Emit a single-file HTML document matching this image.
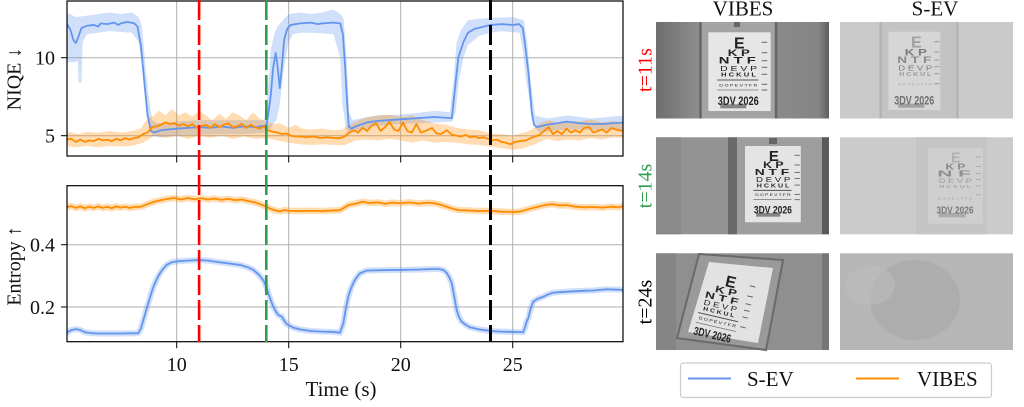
<!DOCTYPE html>
<html><head><meta charset="utf-8"><style>
html,body{margin:0;padding:0;background:#fff;}
svg{display:block;}
.ser{font-family:"Liberation Serif",serif;}
.san{font-family:"Liberation Sans",sans-serif;}
</style></head><body>
<svg width="1024" height="407" viewBox="0 0 1024 407" xmlns="http://www.w3.org/2000/svg">
<defs>
<clipPath id="c1"><rect x="67" y="1" width="556" height="155"/></clipPath>
<clipPath id="c2"><rect x="67" y="185.7" width="556" height="156"/></clipPath>
<linearGradient id="gl" x1="0" x2="1" y1="0" y2="0"><stop offset="0" stop-color="#6e6e6e"/><stop offset="0.25" stop-color="#8e8e8e"/><stop offset="1" stop-color="#8e8e8e"/></linearGradient>
<linearGradient id="gr" x1="0" x2="1" y1="0" y2="0"><stop offset="0" stop-color="#8a8a8a"/><stop offset="0.8" stop-color="#858585"/><stop offset="1" stop-color="#5e5e5e"/></linearGradient>
</defs>
<rect width="1024" height="407" fill="#fff"/>

<!-- ===== grids ===== -->
<g stroke="#b0b0b0" stroke-width="1">
<line x1="176.7" y1="1" x2="176.7" y2="156"/><line x1="288.7" y1="1" x2="288.7" y2="156"/><line x1="400.7" y1="1" x2="400.7" y2="156"/><line x1="512.7" y1="1" x2="512.7" y2="156"/>
<line x1="67" y1="57.7" x2="623" y2="57.7"/><line x1="67" y1="135.7" x2="623" y2="135.7"/>
<line x1="176.7" y1="185.7" x2="176.7" y2="341.7"/><line x1="288.7" y1="185.7" x2="288.7" y2="341.7"/><line x1="400.7" y1="185.7" x2="400.7" y2="341.7"/><line x1="512.7" y1="185.7" x2="512.7" y2="341.7"/>
<line x1="67" y1="244.7" x2="623" y2="244.7"/><line x1="67" y1="307" x2="623" y2="307"/>
</g>

<!-- ===== top plot data ===== -->
<g clip-path="url(#c1)"><g transform="matrix(22.4 0 0 -15.6 -47.3 213.7)">
<polygon fill="#6495ED" fill-opacity="0.3" points="5.1,12.9 5.5,12.6 6,12.7 6.5,12.8 7,12.9 7.5,12.8 8,12.9 8.3,12.6 8.45,12 8.6,9.5 8.75,7.5 8.9,6 9.1,5.8 10,5.9 11,6 12,6 13,6 13.9,6 14.05,7.5 14.2,10.5 14.35,11.5 14.5,12 14.8,12.5 15,12.8 15.5,12.9 16,12.8 16.5,12.9 17,13.1 17.3,12.8 17.45,12.5 17.58,10 17.7,6.5 17.85,6 18.5,6.2 19,6.3 20,6.35 21,6.5 21.5,6.6 22.2,6.5 22.35,8.5 22.5,11 22.7,11.8 23,12.4 23.5,12.5 24,12.55 25,12.6 25.5,12.4 25.65,11 25.8,8.5 26,6.3 26.5,6.1 27,6.2 27.5,6.3 28,6.2 28.5,6.1 29.95,6.3 29.95,5.4 29,5.35 28,5.4 27,5.35 26.2,5.2 26,5.5 25.8,7 25.6,8.5 25.45,10.5 25.3,11.6 24.5,11.7 24,11.6 23.5,11.4 23,10.8 22.8,10 22.6,8.5 22.45,6.5 22.3,5.9 21.5,5.85 21,5.8 20,5.75 19,5.65 18,5.3 17.7,5.1 17.55,5.5 17.4,7 17.3,10 17,11.5 16,11.6 15.5,11.6 15.2,11.5 15,11 14.8,9.5 14.6,7 14.45,6 14.2,5.5 14,5.2 13,5.1 12,5.1 11,5.05 10,5 9.2,4.9 8.9,5 8.75,5.7 8.6,7.5 8.45,9.5 8.3,11 8,11.6 7,11.7 6,11.5 5.8,11 5.75,8.4 5.62,8.4 5.58,9.8 5.4,9.7 5.2,9.7 5.05,9.7"/>
<polygon fill="#FF8C00" fill-opacity="0.3" points="5.05,5.3 5.6,5.1 6,5.25 6.5,5.2 7,5.3 7.5,5.2 8,5.3 8.4,5.45 8.6,5.9 8.8,6.2 9,6.3 9.2,6.6 9.5,6.3 9.8,6.7 10.1,6.3 10.4,6.5 10.7,6.2 11,6.6 11.3,6.3 11.6,6 11.9,6.4 12.2,6.1 12.5,6.5 12.8,6.3 13.1,6 13.4,6.5 13.7,6.1 14,5.9 14.3,5.75 14.6,5.8 15,5.5 15.3,5.7 15.6,5.45 16,5.4 16.5,5.45 17,5.35 17.4,5.4 17.7,5.7 18,5.9 18.3,6.1 18.6,6.2 19,6.3 19.5,6.35 20,6.2 20.5,6.3 21,6 21.5,5.8 22,5.7 22.5,5.5 23,5.4 23.5,5.35 24,5.15 24.5,5.1 25,5 25.5,5.2 25.8,5.35 26.2,5.8 26.6,6 27,5.85 27.5,5.95 28,5.9 28.5,6.05 29,5.85 29.5,5.95 29.95,5.8 29.95,4.85 29.5,4.9 29,4.75 28.5,4.85 28,4.7 27.5,4.75 27,4.65 26.5,4.8 26,4.45 25.5,4.2 25,4.1 24.5,4.2 24,4.3 23.5,4.4 23,4.45 22.5,4.55 22,4.6 21.5,4.55 21,4.7 20.5,4.55 20,4.7 19.5,4.8 19,4.7 18.5,4.75 18,4.7 17.5,4.4 17,4.4 16.5,4.45 16,4.4 15.5,4.45 15,4.55 14.5,4.7 14,4.85 13.5,4.8 13,4.95 12.5,4.8 12,5 11.5,4.85 11,5 10.5,4.8 10,5 9.5,4.85 9,5 8.5,4.55 8,4.35 7.5,4.3 7,4.35 6.5,4.25 6,4.35 5.5,4.25 5.05,4.35"/>
<polyline fill="none" stroke="#6495ED" stroke-width="1.8" stroke-linejoin="round" vector-effect="non-scaling-stroke" points="5.05,12.3 5.25,11.8 5.4,11.1 5.5,10.95 5.6,11.3 5.75,11.9 6,12.05 6.3,12.1 6.5,12 6.6,12.2 6.9,12.15 7.2,12.25 7.4,12.1 7.5,12.2 7.8,12.3 8.1,12.2 8.25,12 8.4,10.8 8.55,8.5 8.7,6.3 8.85,5.3 9,5.2 9.3,5.35 9.6,5.4 10,5.45 10.5,5.5 11,5.55 11.5,5.5 12,5.6 12.5,5.5 13,5.6 13.5,5.55 14,5.65 14.1,6.5 14.2,7.6 14.3,9.3 14.42,10.3 14.5,9.5 14.6,8.05 14.7,9.5 14.8,11.2 14.95,11.9 15.1,12.1 15.5,12.2 16,12.25 16.3,12.15 16.5,12.2 17,12.25 17.3,12.2 17.42,11.5 17.52,9.4 17.6,7.3 17.68,5.6 17.8,5.45 18,5.6 18.5,5.85 19,5.95 20,6.05 20.5,6.1 21,6.15 21.5,6.2 22,6.15 22.28,6.12 22.4,7.7 22.57,10 22.8,11 23,11.6 23.3,11.85 23.6,11.95 24,12.1 24.5,12.15 25,12.1 25.3,12.15 25.45,11.9 25.6,10.3 25.72,8.8 25.85,6.5 25.95,5.7 26.1,5.55 26.5,5.7 27,5.8 27.4,5.9 28,5.8 28.5,5.75 29,5.75 29.5,5.8 29.95,5.85"/>
<polyline fill="none" stroke="#FF8C00" stroke-width="1.8" stroke-linejoin="round" vector-effect="non-scaling-stroke" points="5.05,4.75 5.3,4.8 5.5,4.6 5.7,4.75 5.9,4.6 6.1,4.7 6.3,4.65 6.5,4.8 6.7,4.7 6.9,4.75 7.1,4.65 7.3,4.8 7.5,4.7 7.7,4.85 7.9,4.75 8.1,4.85 8.3,4.9 8.5,5.1 8.7,5.2 8.9,5.55 9.1,5.6 9.3,5.7 9.5,5.85 9.7,5.75 9.9,5.8 10.1,5.65 10.3,5.75 10.5,5.6 10.7,5.75 10.9,5.5 11.1,5.6 11.3,5.7 11.5,5.5 11.7,5.75 11.9,5.55 12.1,5.7 12.3,5.8 12.5,5.55 12.7,5.6 12.9,5.75 13.1,5.5 13.3,5.7 13.5,5.55 13.7,5.45 13.9,5.6 14.05,5.35 14.3,5.25 14.5,5.2 14.7,5.1 14.9,5.15 15.1,5 15.3,4.95 15.5,4.95 15.8,4.9 16.1,4.95 16.4,4.85 16.7,4.9 17,4.85 17.3,4.85 17.5,4.95 17.7,5.2 17.9,5.35 18.1,5.2 18.3,5.5 18.5,5.3 18.7,5.65 18.9,5.8 19.1,5.3 19.3,5.55 19.5,5.9 19.7,5.4 19.9,5.3 20.1,5.85 20.3,5.3 20.5,5.2 20.7,5.75 20.9,5.2 21.1,5.3 21.4,5.5 21.6,5.15 21.8,5.1 22.05,5.35 22.3,5.05 22.5,5 22.7,4.95 22.9,5.05 23.1,4.9 23.3,4.95 23.5,4.85 23.7,4.9 23.9,4.8 24.1,4.7 24.3,4.75 24.5,4.6 24.7,4.55 24.9,4.45 25.1,4.6 25.3,4.65 25.6,4.7 25.8,4.85 26,4.95 26.2,5.05 26.4,5.3 26.6,5.55 26.8,5.1 27,5.3 27.2,5.1 27.4,5.45 27.6,5.2 27.8,5.35 28,5.2 28.2,5.5 28.4,5.55 28.6,5.2 28.8,5.3 29,5.4 29.2,5.2 29.4,5.5 29.6,5.4 29.95,5.3"/>
</g></g>

<!-- ===== bottom plot data ===== -->
<g clip-path="url(#c2)"><g transform="matrix(22.4 0 0 -3.115 -47.3 369.3)">
<polyline fill="none" stroke="#6495ED" stroke-opacity="0.3" stroke-width="6" stroke-linejoin="round" vector-effect="non-scaling-stroke" points="5.05,11.6 5.3,12.6 5.5,12.9 5.7,12.6 5.9,11.9 6.2,11.6 6.5,11.5 7,11.5 7.5,11.5 8,11.55 8.28,11.6 8.4,13 8.51,15.8 8.62,18.5 8.73,21.2 8.85,24 8.96,26.5 9.1,28.8 9.25,30.8 9.4,32.3 9.55,33.5 9.7,34.1 9.85,34.5 10.1,34.7 10.5,34.9 11,35.1 11.4,34.9 11.79,34.5 12.3,34 12.83,33.5 13.2,32.7 13.42,31.9 13.65,30.5 13.86,28.7 14,26.5 14.09,24.4 14.2,22.2 14.31,20.1 14.45,18.3 14.54,17.4 14.69,16.9 14.8,15.6 14.91,14.5 15.2,13.4 15.5,12.8 16,12.3 16.5,12.1 17,12 17.29,11.75 17.44,14.8 17.55,19.5 17.66,23.3 17.77,25.8 17.88,27.6 18,29.2 18.18,30.8 18.48,31.7 19,31.8 19.97,31.9 20.7,32 21.46,32.2 21.7,32.2 21.9,31.9 22.05,31 22.17,29.5 22.28,27.6 22.4,23 22.5,19 22.6,16.8 22.72,15.3 22.9,14.3 23.09,13.5 23.5,12.8 24.03,12.3 24.5,12.1 25,12 25.47,11.9 25.55,13.5 25.62,15.3 25.7,16.5 25.8,19.5 25.92,21.7 26.1,22.6 26.37,23.3 26.6,24.1 26.81,24.6 27.2,24.8 27.6,25 28.15,25.2 28.6,25.3 29.2,25.7 29.5,25.6 29.95,25.5"/>
<polyline fill="none" stroke="#6495ED" stroke-width="1.8" stroke-linejoin="round" vector-effect="non-scaling-stroke" points="5.05,11.6 5.3,12.6 5.5,12.9 5.7,12.6 5.9,11.9 6.2,11.6 6.5,11.5 7,11.5 7.5,11.5 8,11.55 8.28,11.6 8.4,13 8.51,15.8 8.62,18.5 8.73,21.2 8.85,24 8.96,26.5 9.1,28.8 9.25,30.8 9.4,32.3 9.55,33.5 9.7,34.1 9.85,34.5 10.1,34.7 10.5,34.9 11,35.1 11.4,34.9 11.79,34.5 12.3,34 12.83,33.5 13.2,32.7 13.42,31.9 13.65,30.5 13.86,28.7 14,26.5 14.09,24.4 14.2,22.2 14.31,20.1 14.45,18.3 14.54,17.4 14.69,16.9 14.8,15.6 14.91,14.5 15.2,13.4 15.5,12.8 16,12.3 16.5,12.1 17,12 17.29,11.75 17.44,14.8 17.55,19.5 17.66,23.3 17.77,25.8 17.88,27.6 18,29.2 18.18,30.8 18.48,31.7 19,31.8 19.97,31.9 20.7,32 21.46,32.2 21.7,32.2 21.9,31.9 22.05,31 22.17,29.5 22.28,27.6 22.4,23 22.5,19 22.6,16.8 22.72,15.3 22.9,14.3 23.09,13.5 23.5,12.8 24.03,12.3 24.5,12.1 25,12 25.47,11.9 25.55,13.5 25.62,15.3 25.7,16.5 25.8,19.5 25.92,21.7 26.1,22.6 26.37,23.3 26.6,24.1 26.81,24.6 27.2,24.8 27.6,25 28.15,25.2 28.6,25.3 29.2,25.7 29.5,25.6 29.95,25.5"/>
<polyline fill="none" stroke="#FF8C00" stroke-opacity="0.3" stroke-width="6.5" stroke-linejoin="round" vector-effect="non-scaling-stroke" points="5.05,52 5.3,52.4 5.5,51.8 5.7,52.3 5.9,51.7 6.1,52.2 6.3,51.8 6.5,52.3 6.7,51.8 6.9,52.2 7.1,51.7 7.3,52.3 7.5,51.9 7.7,52.2 7.9,51.8 8.1,52.1 8.4,52.2 8.7,53 9,53.8 9.3,54.3 9.6,54.7 9.9,55 10.2,54.5 10.5,55 10.8,54.6 11.1,54.9 11.4,54.5 11.7,54.8 12,54.4 12.3,54.7 12.6,54.3 12.9,54.5 13.2,54 13.5,53.6 13.8,52.8 14,52.2 14.2,51.5 14.4,51 14.6,50.7 14.8,51.1 15,50.9 15.5,50.8 16,50.9 16.5,50.8 17,51 17.3,51.1 17.5,52 17.7,52.8 18,53.2 18.3,53.8 18.6,53.4 19,53.6 19.3,53.1 19.6,53.5 20,53.3 20.4,53.6 20.8,53.2 21.2,53.5 21.5,53.3 21.8,52.8 22,52.3 22.3,51.6 22.6,51.1 23,51 23.5,50.8 24,50.9 24.5,50.6 25,50.5 25.3,50.6 25.6,51.2 25.9,51.8 26.2,52.3 26.5,52.8 26.8,53 27.1,52.6 27.4,52.7 27.8,52.2 28.2,52 28.6,52.1 29,51.9 29.4,52.2 29.7,52 29.95,52.4"/>
<polyline fill="none" stroke="#FF8C00" stroke-width="1.8" stroke-linejoin="round" vector-effect="non-scaling-stroke" points="5.05,52 5.3,52.4 5.5,51.8 5.7,52.3 5.9,51.7 6.1,52.2 6.3,51.8 6.5,52.3 6.7,51.8 6.9,52.2 7.1,51.7 7.3,52.3 7.5,51.9 7.7,52.2 7.9,51.8 8.1,52.1 8.4,52.2 8.7,53 9,53.8 9.3,54.3 9.6,54.7 9.9,55 10.2,54.5 10.5,55 10.8,54.6 11.1,54.9 11.4,54.5 11.7,54.8 12,54.4 12.3,54.7 12.6,54.3 12.9,54.5 13.2,54 13.5,53.6 13.8,52.8 14,52.2 14.2,51.5 14.4,51 14.6,50.7 14.8,51.1 15,50.9 15.5,50.8 16,50.9 16.5,50.8 17,51 17.3,51.1 17.5,52 17.7,52.8 18,53.2 18.3,53.8 18.6,53.4 19,53.6 19.3,53.1 19.6,53.5 20,53.3 20.4,53.6 20.8,53.2 21.2,53.5 21.5,53.3 21.8,52.8 22,52.3 22.3,51.6 22.6,51.1 23,51 23.5,50.8 24,50.9 24.5,50.6 25,50.5 25.3,50.6 25.6,51.2 25.9,51.8 26.2,52.3 26.5,52.8 26.8,53 27.1,52.6 27.4,52.7 27.8,52.2 28.2,52 28.6,52.1 29,51.9 29.4,52.2 29.7,52 29.95,52.4"/>
</g></g>

<!-- ===== axes frames & ticks ===== -->
<g fill="none" stroke="#000" stroke-width="1.2">
<rect x="67" y="1" width="556" height="155"/>
<rect x="67" y="185.7" width="556" height="156"/>
</g>
<g stroke="#000" stroke-width="1">
<line x1="61" y1="57.7" x2="67" y2="57.7"/><line x1="61" y1="135.7" x2="67" y2="135.7"/>
<line x1="61" y1="244.7" x2="67" y2="244.7"/><line x1="61" y1="307" x2="67" y2="307"/>
<line x1="176.7" y1="156" x2="176.7" y2="162.5"/><line x1="288.7" y1="156" x2="288.7" y2="162.5"/><line x1="400.7" y1="156" x2="400.7" y2="162.5"/><line x1="512.7" y1="156" x2="512.7" y2="162.5"/>
<line x1="176.7" y1="341.7" x2="176.7" y2="348.2"/><line x1="288.7" y1="341.7" x2="288.7" y2="348.2"/><line x1="400.7" y1="341.7" x2="400.7" y2="348.2"/><line x1="512.7" y1="341.7" x2="512.7" y2="348.2"/>
</g>

<!-- ===== vertical dashed lines ===== -->
<g stroke-dasharray="20 5" fill="none">
<line x1="199.1" y1="0" x2="199.1" y2="342" stroke="#ff0000" stroke-width="2.6"/>
<line x1="266.3" y1="0" x2="266.3" y2="342" stroke="#2e9e4e" stroke-width="2.6"/>
<line x1="490.5" y1="0" x2="490.5" y2="342" stroke="#000" stroke-width="3"/>
</g>

<!-- ===== axis text ===== -->
<g class="ser" font-size="20" fill="#111">
<text x="55" y="64.5" text-anchor="end">10</text>
<text x="55" y="142.5" text-anchor="end">5</text>
<text x="55" y="251.5" text-anchor="end">0.4</text>
<text x="55" y="313.8" text-anchor="end">0.2</text>
<text x="176.7" y="371" text-anchor="middle">10</text>
<text x="288.7" y="371" text-anchor="middle">15</text>
<text x="400.7" y="371" text-anchor="middle">20</text>
<text x="512.7" y="371" text-anchor="middle">25</text>
<text x="341" y="396" text-anchor="middle" font-size="21">Time (s)</text>
<text transform="translate(20.5,79) rotate(-90)" text-anchor="middle" font-size="20">NIQE ↓</text>
<text transform="translate(20.5,266) rotate(-90)" text-anchor="middle" font-size="20">Entropy ↑</text>
<text x="743" y="15.5" text-anchor="middle" font-size="21">VIBES</text>
<text x="935" y="15.5" text-anchor="middle" font-size="21">S-EV</text>
<text transform="translate(651.5,70) rotate(-90)" text-anchor="middle" fill="#ff0000">t=11s</text>
<text transform="translate(651.5,186) rotate(-90)" text-anchor="middle" fill="#2e9e4e">t=14s</text>
<text transform="translate(651.5,302) rotate(-90)" text-anchor="middle" fill="#000">t=24s</text>
</g>

<!-- ===== Row 1 VIBES ===== -->
<rect x="656" y="22" width="173" height="96.5" fill="url(#gl)"/>
<rect x="776" y="22" width="53" height="96.5" fill="url(#gr)"/>
<rect x="700" y="22" width="77" height="96.5" fill="#a3a3a3"/>
<line x1="700.5" y1="22" x2="700.5" y2="118.5" stroke="#666" stroke-width="2.5"/>
<line x1="776" y1="22" x2="776" y2="118.5" stroke="#666" stroke-width="2.5"/>
<rect x="734" y="22" width="6" height="5" fill="#666"/>
<g transform="translate(708.3,32.3)" class="san" fill="#222">
<rect x="0" y="0" width="62.4" height="78.7" fill="#e6e6e6"/>
<text x="31" y="16" font-size="16" font-weight="bold" text-anchor="middle">E</text>
<text x="30.5" y="23.7" font-size="9.5" font-weight="bold" text-anchor="middle" textLength="22" lengthAdjust="spacingAndGlyphs">K P</text>
<text x="29" y="31.4" font-size="9" font-weight="bold" text-anchor="middle" textLength="37" lengthAdjust="spacingAndGlyphs">N T F</text>
<text x="30.3" y="38.7" font-size="7.5" text-anchor="middle" textLength="37" lengthAdjust="spacingAndGlyphs">D E V P</text>
<text x="30.2" y="44.4" font-size="5.5" font-weight="bold" text-anchor="middle" textLength="35" lengthAdjust="spacingAndGlyphs">H C K U L</text>
<line x1="9" y1="47.7" x2="50" y2="47.7" stroke="#555" stroke-width="1"/>
<text x="30" y="54" font-size="4" text-anchor="middle" textLength="38" lengthAdjust="spacingAndGlyphs">D O P E V T F R</text>
<line x1="9" y1="57.7" x2="50" y2="57.7" stroke="#777" stroke-width="0.8"/>
<text x="30" y="72.7" font-size="11.5" font-weight="bold" text-anchor="middle" textLength="41" lengthAdjust="spacingAndGlyphs">3DV 2026</text>
<rect x="12" y="72" width="26" height="4" fill="#444" opacity="0.6"/>
<g stroke="#666" stroke-width="1"><line x1="53.3" y1="10" x2="59" y2="10"/><line x1="53.3" y1="20.4" x2="59" y2="20.4"/><line x1="53.3" y1="28.4" x2="59" y2="28.4"/><line x1="53.3" y1="35" x2="59" y2="35"/><line x1="53.3" y1="42" x2="59" y2="42"/><line x1="53.3" y1="52" x2="59" y2="52"/><line x1="53.3" y1="57.7" x2="59" y2="57.7"/></g>
</g>

<!-- ===== Row 1 S-EV ===== -->
<rect x="840" y="22" width="173" height="96.5" fill="#cacaca"/>
<rect x="880" y="22" width="78" height="96.5" fill="#c3c3c3"/>
<line x1="880.5" y1="22" x2="880.5" y2="118.5" stroke="#b0b0b0" stroke-width="2"/>
<line x1="957.5" y1="22" x2="957.5" y2="118.5" stroke="#b0b0b0" stroke-width="2"/>
<g transform="translate(888.3,31.7)" class="san" fill="#7a7a7a">
<rect x="0" y="0" width="52" height="78.3" fill="#d6d6d6"/>
<text x="28" y="16" font-size="16" font-weight="bold" text-anchor="middle" fill="#a0a0a0">E</text>
<text x="27.5" y="23.7" font-size="9.5" font-weight="bold" text-anchor="middle" textLength="22" lengthAdjust="spacingAndGlyphs">K P</text>
<text x="26" y="31.4" font-size="9" font-weight="bold" text-anchor="middle" textLength="34" lengthAdjust="spacingAndGlyphs" fill="#8a8a8a">N T F</text>
<text x="27" y="38.7" font-size="7.5" text-anchor="middle" textLength="34" lengthAdjust="spacingAndGlyphs">D E V P</text>
<text x="27" y="44.4" font-size="5.5" font-weight="bold" text-anchor="middle" textLength="32" lengthAdjust="spacingAndGlyphs" fill="#999">H C K U L</text>
<text x="27" y="54" font-size="4" text-anchor="middle" textLength="34" lengthAdjust="spacingAndGlyphs" fill="#aaa">D O P E V T F R</text>
<text x="26" y="72.7" font-size="11.5" font-weight="bold" text-anchor="middle" textLength="40" lengthAdjust="spacingAndGlyphs" fill="#6e6e6e">3DV 2026</text>
<rect x="10" y="72" width="26" height="4" fill="#555" opacity="0.4"/>
<g stroke="#999" stroke-width="1"><line x1="46" y1="10" x2="51" y2="10"/><line x1="46" y1="20.4" x2="51" y2="20.4"/><line x1="46" y1="28.4" x2="51" y2="28.4"/><line x1="46" y1="35" x2="51" y2="35"/><line x1="46" y1="42" x2="51" y2="42"/><line x1="46" y1="52" x2="51" y2="52"/></g>
</g>

<!-- ===== Row 2 VIBES ===== -->
<rect x="656" y="137.3" width="173" height="97" fill="#939393"/>
<rect x="656" y="137.3" width="25" height="97" fill="#8a8a8a"/>
<rect x="728" y="137.3" width="9" height="97" fill="#6a6a6a"/>
<rect x="737" y="137.3" width="86" height="97" fill="#9e9e9e"/>
<rect x="822" y="137.3" width="7" height="97" fill="#5a5a5a"/>
<rect x="769" y="138" width="8" height="6" fill="#666"/>
<g transform="translate(745,146) scale(0.93)" class="san" fill="#222">
<rect x="0" y="0" width="60" height="82" fill="#e4e4e4"/>
<text x="31" y="16" font-size="16" font-weight="bold" text-anchor="middle">E</text>
<text x="30.5" y="23.7" font-size="9.5" font-weight="bold" text-anchor="middle" textLength="22" lengthAdjust="spacingAndGlyphs">K P</text>
<text x="29" y="31.4" font-size="9" font-weight="bold" text-anchor="middle" textLength="37" lengthAdjust="spacingAndGlyphs">N T F</text>
<text x="30.3" y="38.7" font-size="7.5" text-anchor="middle" textLength="37" lengthAdjust="spacingAndGlyphs">D E V P</text>
<text x="30.2" y="44.4" font-size="5.5" font-weight="bold" text-anchor="middle" textLength="35" lengthAdjust="spacingAndGlyphs">H C K U L</text>
<line x1="9" y1="47.7" x2="50" y2="47.7" stroke="#555" stroke-width="1"/>
<text x="30" y="54" font-size="4" text-anchor="middle" textLength="38" lengthAdjust="spacingAndGlyphs">D O P E V T F R</text>
<line x1="9" y1="57.7" x2="50" y2="57.7" stroke="#777" stroke-width="0.8"/>
<text x="30" y="72.7" font-size="11.5" font-weight="bold" text-anchor="middle" textLength="41" lengthAdjust="spacingAndGlyphs">3DV 2026</text>
<rect x="12" y="72" width="26" height="4" fill="#444" opacity="0.6"/>
<g stroke="#666" stroke-width="1"><line x1="53.3" y1="10" x2="59" y2="10"/><line x1="53.3" y1="20.4" x2="59" y2="20.4"/><line x1="53.3" y1="28.4" x2="59" y2="28.4"/><line x1="53.3" y1="35" x2="59" y2="35"/><line x1="53.3" y1="42" x2="59" y2="42"/><line x1="53.3" y1="52" x2="59" y2="52"/><line x1="53.3" y1="57.7" x2="59" y2="57.7"/></g>
</g>

<!-- ===== Row 2 S-EV ===== -->
<rect x="840" y="137.3" width="173" height="97" fill="#cbcbcb"/>
<rect x="916" y="137.3" width="71" height="97" fill="#c5c5c5"/>
<g transform="translate(928,148) scale(0.9)" class="san" fill="#8a8a8a">
<rect x="0" y="0" width="61" height="84" fill="#cfcfcf"/>
<text x="31" y="16" font-size="16" font-weight="bold" text-anchor="middle" fill="#b0b0b0">E</text>
<text x="30.5" y="23.7" font-size="9.5" font-weight="bold" text-anchor="middle" textLength="22" lengthAdjust="spacingAndGlyphs" fill="#888">K P</text>
<text x="29" y="31.4" font-size="9" font-weight="bold" text-anchor="middle" textLength="37" lengthAdjust="spacingAndGlyphs" fill="#8e8e8e">N   F</text>
<text x="30.3" y="38.7" font-size="7.5" text-anchor="middle" textLength="37" lengthAdjust="spacingAndGlyphs" fill="#999">D E V P</text>
<text x="30.2" y="44.4" font-size="5.5" font-weight="bold" text-anchor="middle" textLength="35" lengthAdjust="spacingAndGlyphs" fill="#a5a5a5">H C K U L</text>
<text x="30" y="58" font-size="4" text-anchor="middle" textLength="38" lengthAdjust="spacingAndGlyphs" fill="#aaa">D O P E V T F R</text>
<text x="30" y="72.7" font-size="11.5" font-weight="bold" text-anchor="middle" textLength="41" lengthAdjust="spacingAndGlyphs" fill="#7a7a7a">3DV 2026</text>
<rect x="12" y="72" width="30" height="5" fill="#666" opacity="0.35"/>
<g stroke="#a8a8a8" stroke-width="1"><line x1="53.3" y1="10" x2="59" y2="10"/><line x1="53.3" y1="20.4" x2="59" y2="20.4"/><line x1="53.3" y1="28.4" x2="59" y2="28.4"/><line x1="53.3" y1="35" x2="59" y2="35"/><line x1="53.3" y1="42" x2="59" y2="42"/><line x1="53.3" y1="52" x2="59" y2="52"/></g>
</g>

<!-- ===== Row 3 VIBES ===== -->
<rect x="656" y="253.3" width="173" height="96.7" fill="#8f8f8f"/>
<rect x="656" y="253.3" width="20" height="96.7" fill="#858585"/>
<rect x="822" y="253.3" width="7" height="96.7" fill="#777"/>
<polygon points="699,254 783,260 766,350 677,338" fill="#9a9a9a" stroke="#6a6a6a" stroke-width="2"/>
<polygon points="709,262 773,268 758,343 688,332" fill="#e2e2e2"/>
<g transform="translate(700,264) rotate(13)" class="san" fill="#222">
<text x="34" y="16" font-size="16" font-weight="bold" text-anchor="middle">E</text>
<text x="31.5" y="23.7" font-size="9.5" font-weight="bold" text-anchor="middle" textLength="22" lengthAdjust="spacingAndGlyphs">K P</text>
<text x="29" y="31.4" font-size="9" font-weight="bold" text-anchor="middle" textLength="34" lengthAdjust="spacingAndGlyphs">N T F</text>
<text x="29.3" y="38.7" font-size="7.5" text-anchor="middle" textLength="34" lengthAdjust="spacingAndGlyphs">D E V P</text>
<text x="29.2" y="44.4" font-size="5.5" font-weight="bold" text-anchor="middle" textLength="32" lengthAdjust="spacingAndGlyphs">H C K U L</text>
<line x1="9" y1="47.7" x2="50" y2="47.7" stroke="#555" stroke-width="1"/>
<text x="30" y="54" font-size="4" text-anchor="middle" textLength="38" lengthAdjust="spacingAndGlyphs">D O P E V T F R</text>
<line x1="9" y1="57.7" x2="50" y2="57.7" stroke="#777" stroke-width="0.8"/>
<text x="28" y="70" font-size="11.5" font-weight="bold" text-anchor="middle" textLength="38" lengthAdjust="spacingAndGlyphs">3DV 2026</text>
<g stroke="#666" stroke-width="1"><line x1="53.3" y1="10" x2="59" y2="10"/><line x1="53.3" y1="20.4" x2="59" y2="20.4"/><line x1="53.3" y1="28.4" x2="59" y2="28.4"/><line x1="53.3" y1="35" x2="59" y2="35"/><line x1="53.3" y1="42" x2="59" y2="42"/><line x1="53.3" y1="52" x2="59" y2="52"/></g>
</g>

<!-- ===== Row 3 S-EV ===== -->
<rect x="840" y="253.3" width="173" height="96.7" fill="#b6b6b6"/>
<ellipse cx="915" cy="300" rx="45" ry="40" fill="#aaaaaa" opacity="0.7"/>
<ellipse cx="870" cy="285" rx="25" ry="20" fill="#bdbdbd" opacity="0.6"/>

<!-- ===== legend ===== -->
<rect x="680.5" y="363" width="311" height="34.5" rx="3" fill="#fff" stroke="#cccccc" stroke-width="1.2"/>
<line x1="688" y1="378.5" x2="731" y2="378.5" stroke="#6495ED" stroke-width="2"/>
<line x1="856" y1="378.5" x2="899" y2="378.5" stroke="#FF8C00" stroke-width="2"/>
<g class="ser" font-size="21" fill="#111">
<text x="747" y="386">S-EV</text>
<text x="917" y="386">VIBES</text>
</g>
</svg>
</body></html>
